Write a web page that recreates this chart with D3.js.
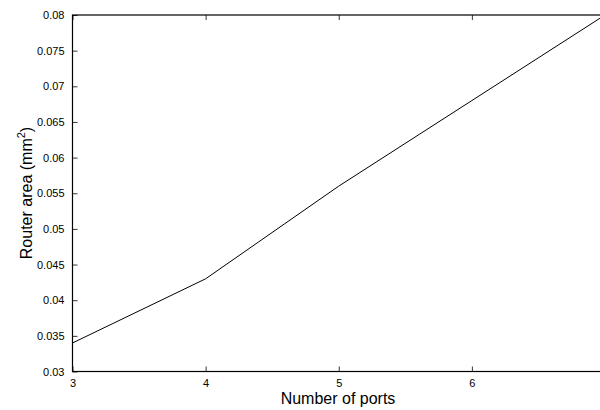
<!DOCTYPE html>
<html>
<head>
<meta charset="utf-8">
<script src="https://cdn.jsdelivr.net/npm/d3@7"></script>
<style>
  body { margin: 0; background: #fff; }
  svg { display: block; font-family: "Liberation Sans", Arial, sans-serif; }
</style>
</head>
<body>
<svg id="chart" width="600" height="410"></svg>
<script>
// data
const ports = [3, 4, 5, 6, 7];
const area = [0.034, 0.043, 0.056, 0.068, 0.08];
const xTicks = [3, 4, 5, 6, 7];
const xTickLabels = ["3", "4", "5", "6", ""]; // 7 falls past the page edge
const yTicks = [0.03, 0.035, 0.04, 0.045, 0.05, 0.055, 0.06, 0.065, 0.07, 0.075, 0.08];

const margin = { left: 72.5, top: 15, right: 605, bottom: 371.5 };

const svg = d3.select("#chart");

const x = d3.scaleLinear().domain([3, 7]).range([margin.left, margin.right]);
const y = d3.scaleLinear().domain([0.03, 0.08]).range([margin.bottom, margin.top]);

const tickLen = 5;

// bottom axis, ticks pointing inward
const xAxis = svg.append("g")
  .attr("transform", `translate(0,${margin.bottom})`)
  .call(d3.axisBottom(x).tickValues(xTicks).tickFormat((d, i) => xTickLabels[i]).tickSize(-tickLen).tickPadding(8).tickSizeOuter(0));
xAxis.select(".domain").remove();

// top ticks
svg.append("g")
  .attr("transform", `translate(0,${margin.top})`)
  .call(d3.axisTop(x).tickValues(xTicks).tickFormat("").tickSize(-tickLen).tickSizeOuter(0))
  .select(".domain").remove();

// left axis
const yAxis = svg.append("g")
  .attr("transform", `translate(${margin.left},0)`)
  .call(d3.axisLeft(y).tickValues(yTicks).tickFormat(d => d3.format("")(+d.toFixed(3))).tickSize(-tickLen).tickPadding(8).tickSizeOuter(0));
yAxis.select(".domain").remove();

// right ticks
svg.append("g")
  .attr("transform", `translate(${margin.right},0)`)
  .call(d3.axisRight(y).tickValues(yTicks).tickFormat("").tickSize(-tickLen).tickSizeOuter(0))
  .select(".domain").remove();

svg.selectAll(".tick line").attr("stroke", "#000").attr("stroke-width", 0.8);
svg.selectAll(".tick text").attr("fill", "#000").attr("font-size", 11);

// box
svg.append("rect")
  .attr("x", margin.left)
  .attr("y", margin.top)
  .attr("width", margin.right - margin.left)
  .attr("height", margin.bottom - margin.top)
  .attr("fill", "none")
  .attr("stroke", "#000")
  .attr("stroke-width", 1.2);

// line
const line = d3.line()
  .x((d, i) => x(ports[i]))
  .y(d => y(d));

svg.append("path")
  .datum(area)
  .attr("fill", "none")
  .attr("stroke", "#000")
  .attr("stroke-width", 1)
  .attr("d", line);

// axis labels
svg.append("text")
  .attr("x", 338)
  .attr("y", 404)
  .attr("text-anchor", "middle")
  .attr("font-size", 16)
  .text("Number of ports");

const yl = svg.append("text")
  .attr("transform", "translate(32,193) rotate(-90)")
  .attr("text-anchor", "middle")
  .attr("font-size", 16);
yl.append("tspan").text("Router area (mm");
yl.append("tspan").attr("font-size", 11).attr("dy", -7).text("2");
yl.append("tspan").attr("dy", 7).text(")");
</script>
</body>
</html>
